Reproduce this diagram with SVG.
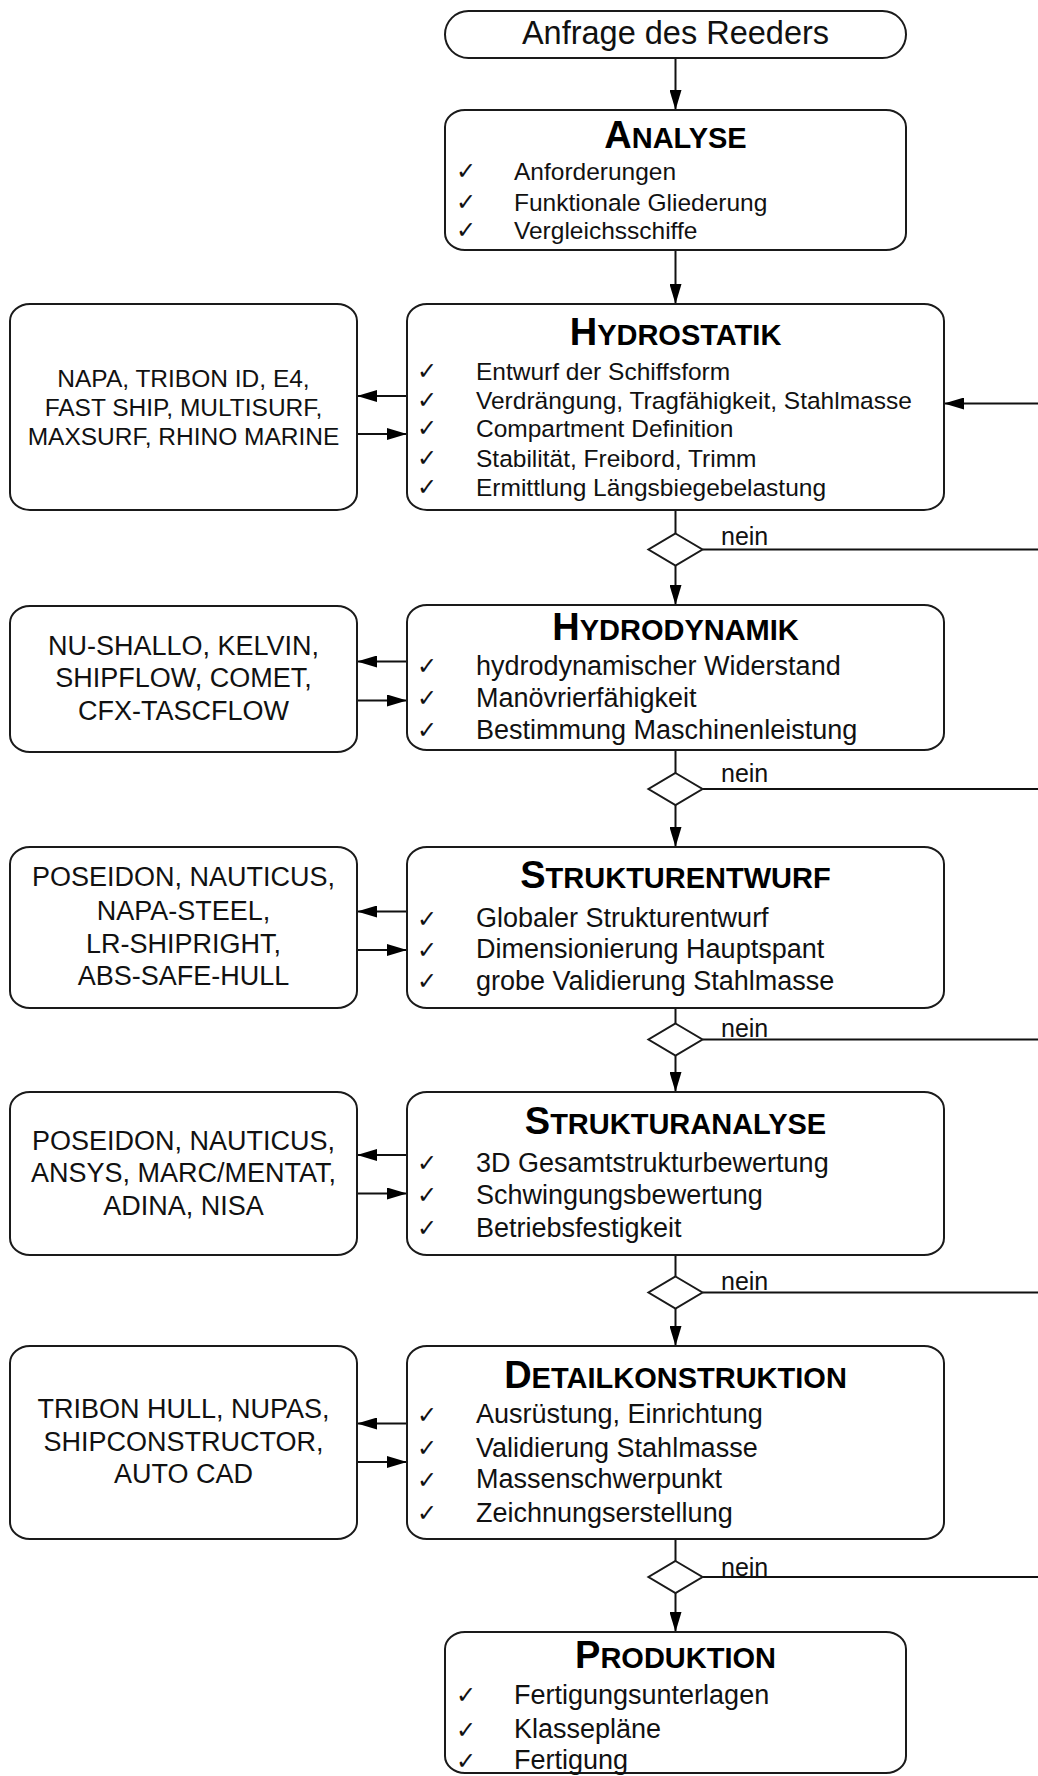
<svg xmlns="http://www.w3.org/2000/svg" width="1038" height="1776" viewBox="0 0 1038 1776">
<style>
  .box { fill: #ffffff; stroke: #1a1a1a; stroke-width: 2; }
  .ln { fill: none; stroke: #111111; stroke-width: 2; }
  .arr { fill: none; stroke: #111111; stroke-width: 2; marker-end: url(#ah); }
  .t { font-family: "Liberation Sans", Arial, sans-serif; fill: #111111; font-size: 32.5px; text-anchor: middle; }
  .title { font-family: "Liberation Sans", Arial, sans-serif; font-weight: bold; fill: #000000; text-anchor: middle; font-size: 29px; }
  .big { font-size: 38px; }
  .it { font-family: "Liberation Sans", Arial, sans-serif; fill: #111111; font-size: 27px; }
  .its { font-size: 24.5px; }
  .ck { font-family: "DejaVu Sans", sans-serif; font-size: 24px; fill: #111111; }
  .tool { font-family: "Liberation Sans", Arial, sans-serif; fill: #111111; font-size: 27px; text-anchor: middle; }
  .tools { font-size: 24.5px; }
  .nein { font-family: "Liberation Sans", Arial, sans-serif; fill: #111111; font-size: 25px; }
</style>
<defs>
  <marker id="ah" markerUnits="userSpaceOnUse" markerWidth="20" markerHeight="12" refX="20" refY="6" orient="auto">
    <path d="M0,0 L20,6 L0,12 z" fill="#000000"/>
  </marker>
</defs>
<rect width="1038" height="1776" fill="#ffffff"/>

<g id="connectors">
  <line class="arr" x1="675.5" y1="58" x2="675.5" y2="110"/>
  <line class="arr" x1="675.5" y1="250" x2="675.5" y2="304"/>
  <line class="ln" x1="675.5" y1="510" x2="675.5" y2="533.5"/>
  <line class="arr" x1="675.5" y1="565.5" x2="675.5" y2="605"/>
  <line class="ln" x1="675.5" y1="750" x2="675.5" y2="773"/>
  <line class="arr" x1="675.5" y1="805" x2="675.5" y2="847"/>
  <line class="ln" x1="675.5" y1="1008" x2="675.5" y2="1023.5"/>
  <line class="arr" x1="675.5" y1="1055.5" x2="675.5" y2="1092"/>
  <line class="ln" x1="675.5" y1="1255" x2="675.5" y2="1276.5"/>
  <line class="arr" x1="675.5" y1="1308.5" x2="675.5" y2="1346"/>
  <line class="ln" x1="675.5" y1="1539" x2="675.5" y2="1561"/>
  <line class="arr" x1="675.5" y1="1593" x2="675.5" y2="1632"/>
  <line class="ln" x1="702.5" y1="549.5" x2="1038" y2="549.5"/>
  <line class="ln" x1="702.5" y1="789" x2="1038" y2="789"/>
  <line class="ln" x1="702.5" y1="1039.5" x2="1038" y2="1039.5"/>
  <line class="ln" x1="702.5" y1="1292.5" x2="1038" y2="1292.5"/>
  <line class="ln" x1="702.5" y1="1577" x2="1038" y2="1577"/>
  <line class="arr" x1="1038" y1="403.5" x2="944" y2="403.5"/>
  <line class="arr" x1="407" y1="396" x2="357" y2="396"/>
  <line class="arr" x1="357" y1="434" x2="407" y2="434"/>
  <line class="arr" x1="407" y1="661.5" x2="357" y2="661.5"/>
  <line class="arr" x1="357" y1="700.5" x2="407" y2="700.5"/>
  <line class="arr" x1="407" y1="911.5" x2="357" y2="911.5"/>
  <line class="arr" x1="357" y1="950" x2="407" y2="950"/>
  <line class="arr" x1="407" y1="1155" x2="357" y2="1155"/>
  <line class="arr" x1="357" y1="1193.5" x2="407" y2="1193.5"/>
  <line class="arr" x1="407" y1="1423.5" x2="357" y2="1423.5"/>
  <line class="arr" x1="357" y1="1462" x2="407" y2="1462"/>
</g>

<g id="decisions">
  <polygon class="box" points="675.5,533.5 702.5,549.5 675.5,565.5 648.5,549.5"/>
  <polygon class="box" points="675.5,773 702.5,789 675.5,805 648.5,789"/>
  <polygon class="box" points="675.5,1023.5 702.5,1039.5 675.5,1055.5 648.5,1039.5"/>
  <polygon class="box" points="675.5,1276.5 702.5,1292.5 675.5,1308.5 648.5,1292.5"/>
  <polygon class="box" points="675.5,1561 702.5,1577 675.5,1593 648.5,1577"/>
  <text class="nein" x="721" y="545">nein</text>
  <text class="nein" x="721" y="782">nein</text>
  <text class="nein" x="721" y="1036.5">nein</text>
  <text class="nein" x="721" y="1290">nein</text>
  <text class="nein" x="721" y="1576">nein</text>
</g>

<g id="start">
  <rect class="box" x="445" y="11" width="461" height="47" rx="23.5" ry="23.5"/>
  <text class="t" x="675.5" y="43.5">Anfrage des Reeders</text>
</g>

<g id="analyse">
  <rect class="box" x="445" y="110" width="461" height="140" rx="20" ry="17"/>
  <text class="title" x="675.5" y="148.3"><tspan class="big">A</tspan>NALYSE</text>
  <text class="ck" x="456" y="179">✓</text>
  <text class="ck" x="456" y="210">✓</text>
  <text class="ck" x="456" y="238">✓</text>
  <text class="it its" x="514" y="180">Anforderungen</text>
  <text class="it its" x="514" y="210.7">Funktionale Gliederung</text>
  <text class="it its" x="514" y="239">Vergleichsschiffe</text>
</g>

<g id="hydrostatik">
  <rect class="box" x="407" y="304" width="537" height="206" rx="20" ry="17"/>
  <text class="title" x="675.5" y="345"><tspan class="big">H</tspan>YDROSTATIK</text>
  <text class="ck" x="417" y="379">✓</text>
  <text class="ck" x="417" y="407.5">✓</text>
  <text class="ck" x="417" y="436">✓</text>
  <text class="ck" x="417" y="465.5">✓</text>
  <text class="ck" x="417" y="495">✓</text>
  <text class="it its" x="476" y="380">Entwurf der Schiffsform</text>
  <text class="it its" x="476" y="408.5">Verdrängung, Tragfähigkeit, Stahlmasse</text>
  <text class="it its" x="476" y="437">Compartment Definition</text>
  <text class="it its" x="476" y="466.5">Stabilität, Freibord, Trimm</text>
  <text class="it its" x="476" y="496">Ermittlung Längsbiegebelastung</text>
</g>

<g id="tools-hydrostatik">
  <rect class="box" x="10" y="304" width="347" height="206" rx="20" ry="17"/>
  <text class="tool tools" x="183.5" y="387.3">NAPA, TRIBON ID, E4,</text>
  <text class="tool tools" x="183.5" y="416">FAST SHIP, MULTISURF,</text>
  <text class="tool tools" x="183.5" y="444.5">MAXSURF, RHINO MARINE</text>
</g>

<g id="hydrodynamik">
  <rect class="box" x="407" y="605" width="537" height="145" rx="20" ry="17"/>
  <text class="title" x="675.5" y="640"><tspan class="big">H</tspan>YDRODYNAMIK</text>
  <text class="ck" x="417" y="674">✓</text>
  <text class="ck" x="417" y="706">✓</text>
  <text class="ck" x="417" y="738">✓</text>
  <text class="it" x="476" y="675">hydrodynamischer Widerstand</text>
  <text class="it" x="476" y="707">Manövrierfähigkeit</text>
  <text class="it" x="476" y="739">Bestimmung Maschinenleistung</text>
</g>

<g id="tools-hydrodynamik">
  <rect class="box" x="10" y="606" width="347" height="146" rx="20" ry="17"/>
  <text class="tool" x="183.5" y="655">NU-SHALLO, KELVIN,</text>
  <text class="tool" x="183.5" y="687.3">SHIPFLOW, COMET,</text>
  <text class="tool" x="183.5" y="719.5">CFX-TASCFLOW</text>
</g>

<g id="strukturentwurf">
  <rect class="box" x="407" y="847" width="537" height="161" rx="20" ry="17"/>
  <text class="title" x="675.5" y="888.3"><tspan class="big">S</tspan>TRUKTURENTWURF</text>
  <text class="ck" x="417" y="926.5">✓</text>
  <text class="ck" x="417" y="957.5">✓</text>
  <text class="ck" x="417" y="989">✓</text>
  <text class="it" x="476" y="927.3">Globaler Strukturentwurf</text>
  <text class="it" x="476" y="958.3">Dimensionierung Hauptspant</text>
  <text class="it" x="476" y="990">grobe Validierung Stahlmasse</text>
</g>

<g id="tools-strukturentwurf">
  <rect class="box" x="10" y="847" width="347" height="161" rx="20" ry="17"/>
  <text class="tool" x="183.5" y="886">POSEIDON, NAUTICUS,</text>
  <text class="tool" x="183.5" y="919.5">NAPA-STEEL,</text>
  <text class="tool" x="183.5" y="953">LR-SHIPRIGHT,</text>
  <text class="tool" x="183.5" y="985">ABS-SAFE-HULL</text>
</g>

<g id="strukturanalyse">
  <rect class="box" x="407" y="1092" width="537" height="163" rx="20" ry="17"/>
  <text class="title" x="675.5" y="1134"><tspan class="big">S</tspan>TRUKTURANALYSE</text>
  <text class="ck" x="417" y="1171">✓</text>
  <text class="ck" x="417" y="1203">✓</text>
  <text class="ck" x="417" y="1236">✓</text>
  <text class="it" x="476" y="1171.7">3D Gesamtstrukturbewertung</text>
  <text class="it" x="476" y="1204">Schwingungsbewertung</text>
  <text class="it" x="476" y="1236.7">Betriebsfestigkeit</text>
</g>

<g id="tools-strukturanalyse">
  <rect class="box" x="10" y="1092" width="347" height="163" rx="20" ry="17"/>
  <text class="tool" x="183.5" y="1149.5">POSEIDON, NAUTICUS,</text>
  <text class="tool" x="183.5" y="1182">ANSYS, MARC/MENTAT,</text>
  <text class="tool" x="183.5" y="1214.5">ADINA, NISA</text>
</g>

<g id="detailkonstruktion">
  <rect class="box" x="407" y="1346" width="537" height="193" rx="20" ry="17"/>
  <text class="title" x="675.5" y="1388.3"><tspan class="big">D</tspan>ETAILKONSTRUKTION</text>
  <text class="ck" x="417" y="1422.5">✓</text>
  <text class="ck" x="417" y="1456">✓</text>
  <text class="ck" x="417" y="1487.5">✓</text>
  <text class="ck" x="417" y="1521">✓</text>
  <text class="it" x="476" y="1423.3">Ausrüstung, Einrichtung</text>
  <text class="it" x="476" y="1456.7">Validierung Stahlmasse</text>
  <text class="it" x="476" y="1488.3">Massenschwerpunkt</text>
  <text class="it" x="476" y="1521.7">Zeichnungserstellung</text>
</g>

<g id="tools-detailkonstruktion">
  <rect class="box" x="10" y="1346" width="347" height="193" rx="20" ry="17"/>
  <text class="tool" x="183.5" y="1418.3">TRIBON HULL, NUPAS,</text>
  <text class="tool" x="183.5" y="1450.5">SHIPCONSTRUCTOR,</text>
  <text class="tool" x="183.5" y="1482.7">AUTO CAD</text>
</g>

<g id="produktion">
  <rect class="box" x="445" y="1632" width="461" height="141" rx="20" ry="17"/>
  <text class="title" x="675.5" y="1668.3"><tspan class="big">P</tspan>RODUKTION</text>
  <text class="ck" x="456" y="1703">✓</text>
  <text class="ck" x="456" y="1737.5">✓</text>
  <text class="ck" x="456" y="1768.5">✓</text>
  <text class="it" x="514" y="1704">Fertigungsunterlagen</text>
  <text class="it" x="514" y="1738.3">Klassepläne</text>
  <text class="it" x="514" y="1769.3">Fertigung</text>
</g>
</svg>
